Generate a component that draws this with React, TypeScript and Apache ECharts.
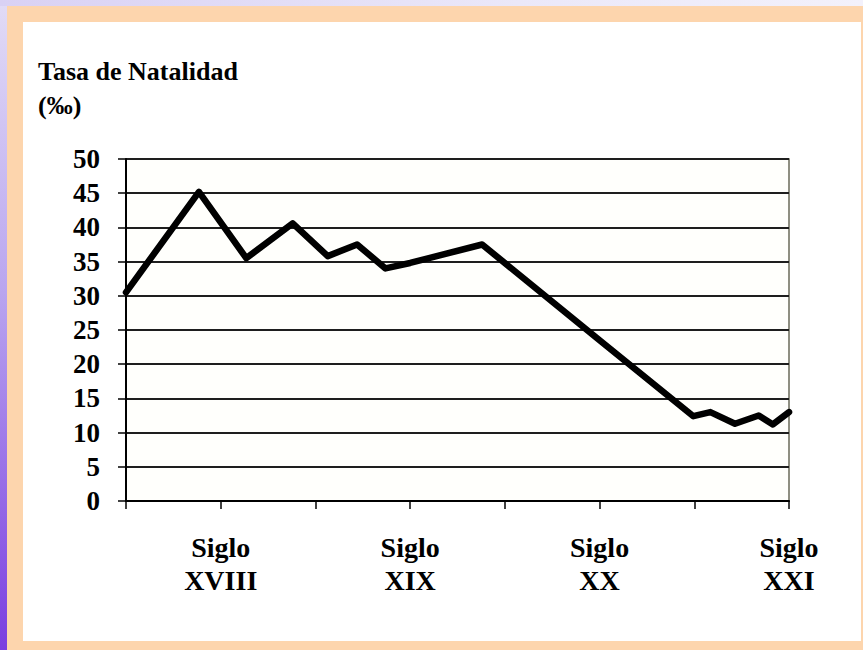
import React, { useEffect, useRef } from "react";
import * as echarts from "echarts";

// Position along the time axis (0..7, one unit per half-century step) and birth rate (‰)
const timePos = [0, 0.77, 1.27, 1.76, 2.13, 2.44, 2.74, 3, 3.76, 5, 5.99, 6.17, 6.43, 6.68, 6.83, 7];
const birthRate = [30.5, 45.2, 35.5, 40.6, 35.8, 37.5, 34, 34.8, 37.5, 23.5, 12.4, 13, 11.3, 12.5, 11.2, 13];

const centuryTicks = [1, 3, 5, 7];
const centuryLabels = ["Siglo\nXVIII", "Siglo\nXIX", "Siglo\nXX", "Siglo\nXXI"];

const yTitle = "Tasa de Natalidad";
const yUnit = "(‰)";

const FONT = '"Liberation Serif", "Times New Roman", serif';

export default function App() {
  const ref = useRef<HTMLDivElement>(null);

  useEffect(() => {
    if (!ref.current) return;
    const chart = echarts.init(ref.current, undefined, { renderer: "svg" });
    const data = timePos.map((x, i) => [x, birthRate[i]]);
    chart.setOption({
      animation: false,
      backgroundColor: "transparent",
      textStyle: { fontFamily: FONT },
      grid: {
        left: 126,
        right: 74,
        top: 159,
        bottom: 149,
        show: true,
        backgroundColor: "#fffffc",
        borderColor: "#6b6b5a",
        borderWidth: 1.5,
      },
      xAxis: {
        type: "value",
        min: 0,
        max: 7,
        interval: 1,
        axisLine: { show: true, lineStyle: { color: "#000", width: 2 } },
        axisTick: { show: true, inside: false, length: 8, lineStyle: { color: "#000", width: 1.5 } },
        splitLine: { show: false },
        axisLabel: {
          show: true,
          showMinLabel: true,
          showMaxLabel: true,
          margin: 30,
          color: "#000",
          fontFamily: FONT,
          fontWeight: "bold",
          fontSize: 28,
          lineHeight: 33,
          formatter: (v: number) => {
            const idx = centuryTicks.indexOf(Math.round(v));
            return idx >= 0 ? centuryLabels[idx] : "";
          },
        },
      },
      yAxis: {
        type: "value",
        min: 0,
        max: 50,
        interval: 5,
        axisLine: { show: true, lineStyle: { color: "#000", width: 2 } },
        axisTick: { show: true, inside: false, length: 8, lineStyle: { color: "#000", width: 1.5 } },
        splitLine: { show: true, lineStyle: { color: "#1e1e1e", width: 1.8 } },
        axisLabel: {
          margin: 26,
          color: "#000",
          fontFamily: FONT,
          fontWeight: "bold",
          fontSize: 27,
          padding: [0, 0, 8, 0],
        },
      },
      graphic: [
        {
          type: "text",
          left: 38,
          top: 58,
          style: {
            text: yTitle,
            fontFamily: FONT,
            fontWeight: "bold",
            fontSize: 26,
            fill: "#000",
          },
        },
        {
          type: "text",
          left: 38,
          top: 92,
          style: {
            text: yUnit,
            fontFamily: FONT,
            fontWeight: "bold",
            fontSize: 26,
            fill: "#000",
          },
        },
      ],
      series: [
        {
          type: "line",
          data,
          showSymbol: false,
          symbol: "none",
          lineStyle: { color: "#000", width: 6.5, join: "round", cap: "round" },
          z: 5,
        },
      ],
    });
    return () => chart.dispose();
  }, []);

  return (
    <div
      style={{
        position: "fixed",
        left: 0,
        top: 0,
        width: 863,
        height: 650,
        overflow: "hidden",
        background: "linear-gradient(180deg, #e2dcf6 0%, #b9a5ef 45%, #7a3ee0 100%)",
      }}
    >
      <div
        style={{
          position: "absolute",
          left: 0,
          top: 0,
          width: 863,
          height: 6,
          background: "linear-gradient(90deg, #d9d1f4 0%, #ebe8f9 60%, #f3f1fb 100%)",
        }}
      />
      <div
        style={{
          position: "absolute",
          left: 7,
          top: 6,
          width: 856,
          height: 644,
          background: "#fdd5ad",
        }}
      />
      <div
        style={{
          position: "absolute",
          left: 23,
          top: 22,
          width: 838,
          height: 619,
          background: "#ffffff",
        }}
      />
      <div
        ref={ref}
        style={{ position: "absolute", left: 0, top: 0, width: 863, height: 650 }}
      />
    </div>
  );
}
